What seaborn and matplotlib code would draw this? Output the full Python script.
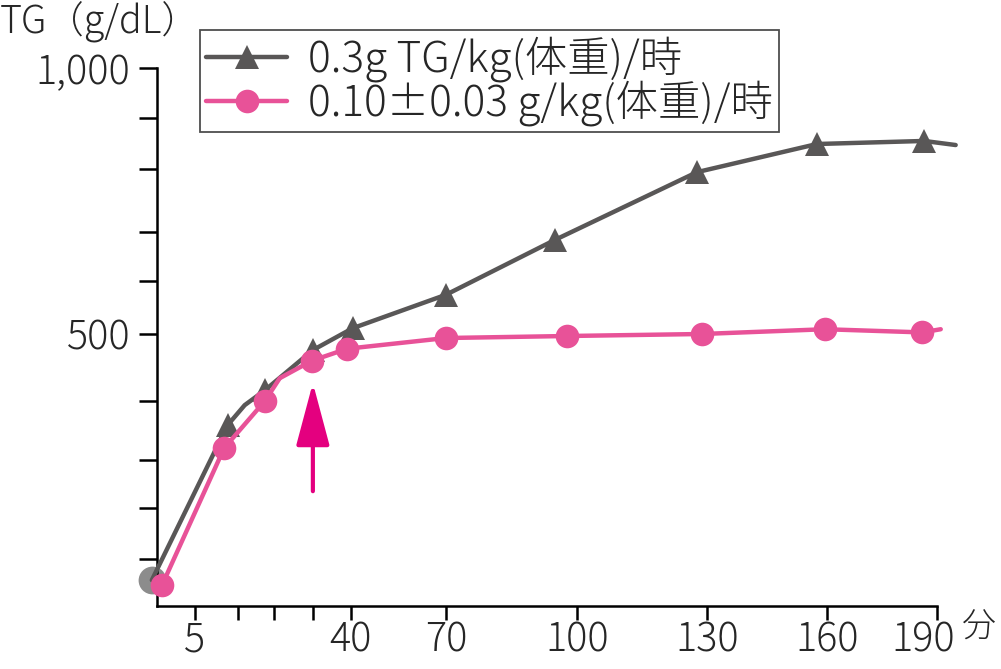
import numpy as np
import pandas as pd
import matplotlib.pyplot as plt
import matplotlib.transforms as mtransforms
import seaborn as sns

sns.set_theme(style='white')
plt.rcParams['font.family'] = ['Noto Sans CJK JP', 'DejaVu Sans']
plt.rcParams['font.weight'] = 'light'

# values (time in min, TG)
tg03_min = [0, 8.8, 11.9, 17.5, 30, 40.6, 70, 95, 127.7, 157.5, 186.5, 195]
tg03_val = [55, 359, 393, 416, 476, 511, 574, 684, 795, 849, 855, 847]
tg03_marks = [1, 3, 4, 5, 6, 7, 8, 9, 10]

tg01_min = [1.2, 8.4, 17.5, 21.5, 29.7, 39, 70, 97.7, 128.8, 159.5, 186, 191]
tg01_val = [45, 320, 400, 434, 460, 478, 494, 497, 500, 509, 503, 509]
tg01_marks = [0, 1, 2, 4, 5, 6, 7, 8, 9, 10]

labels = ["0.3g TG/kg(体重)/時", "0.10±0.03 g/kg(体重)/時"]

arrow_min = 30
arrow_from, arrow_to = 235, 427

xticks = [5, 10, 20, 30, 40, 70, 100, 130, 160, 190]
xticklabels = ["5", "", "", "", "40", "70", "100", "130", "160", "190"]
yticks = [100, 200, 300, 400, 500, 600, 700, 800, 900, 1000]
yticklabels = ["", "", "", "", "500", "", "", "", "", "1,000"]

# the drawn axes are not evenly spaced, so use piecewise scales
x_knots = [-10, 0, 5, 10, 20, 30, 40, 70, 100, 130, 160, 190, 220]
x_space = [-86, 0, 43, 86, 122, 161, 199, 294, 425, 555, 675, 785, 897]
y_knots = [-100, 0, 100, 200, 300, 400, 500, 600, 700, 800, 900, 1000, 1100]
y_space = [-47, 0, 47, 98, 146, 205, 272, 325, 374, 437, 488, 538, 588]

gray = '#595757'
pink = '#E85298'

df03 = pd.DataFrame({'min': tg03_min, 'TG': tg03_val})
df01 = pd.DataFrame({'min': tg01_min, 'TG': tg01_val})

fig = plt.figure(figsize=(10.01, 6.69), dpi=100)
ax = fig.add_axes([157/1001, 1 - 606/669, (937 - 157)/1001, (606 - 68)/669])

# start point of the 0.3g series is a grey dot
ax.scatter(tg03_min[:1], tg03_val[:1], s=20**2, color='#8C8C8C', zorder=2,
           clip_on=False, linewidths=0)
sns.lineplot(data=df03, x='min', y='TG', ax=ax, color=gray, lw=3.2, sort=False,
             marker='^', markersize=17, markevery=tg03_marks, markeredgewidth=0,
             label=labels[0], clip_on=False, zorder=3)
sns.lineplot(data=df01, x='min', y='TG', ax=ax, color=pink, lw=3.2, sort=False,
             marker='o', markersize=17, markevery=tg01_marks, markeredgewidth=0,
             label=labels[1], clip_on=False, zorder=4)

ax.set_xscale('function', functions=(lambda v: np.interp(v, x_knots, x_space),
                                     lambda p: np.interp(p, x_space, x_knots)))
ax.set_yscale('function', functions=(lambda v: np.interp(v, y_knots, y_space),
                                     lambda p: np.interp(p, y_space, y_knots)))
ax.set_xlim(0.6, 190)
ax.set_ylim(0, 1000)

ax.set_xticks(xticks)
ax.set_xticklabels(xticklabels)
ax.set_yticks(yticks)
ax.set_yticklabels(yticklabels)
ax.minorticks_off()
ax.set_xlabel('')
ax.set_ylabel('')

sns.despine(ax=ax)
for s in ['left', 'bottom']:
    ax.spines[s].set_linewidth(1.8)
    ax.spines[s].set_color('black')
ax.tick_params(axis='y', direction='out', length=13, width=1.8, color='black',
               labelsize=28.5, pad=6, left=True)
ax.tick_params(axis='x', direction='out', length=10, width=1.8, color='black',
               labelsize=28.5, pad=0, bottom=True)

# the last label sits a little left of its tick
last = ax.get_xticklabels()[-1]
last.set_transform(last.get_transform() +
                   mtransforms.ScaledTranslation(-10/72, 0, fig.dpi_scale_trans))

ax.annotate('', xy=(arrow_min, arrow_to), xytext=(arrow_min, arrow_from),
            arrowprops=dict(arrowstyle='-|>,head_length=1.95,head_width=0.52',
                            mutation_scale=20, color='#E4007F', lw=3,
                            shrinkA=0, shrinkB=0))

leg = ax.legend(loc='upper left', bbox_to_anchor=(200/1001, 1 - 30/669),
                bbox_transform=fig.transFigure, fontsize=30.5, frameon=True,
                fancybox=False, edgecolor='#222222', handlelength=1.9,
                handletextpad=0.5, labelspacing=-0.05, borderpad=0.15,
                borderaxespad=0)
leg.get_frame().set_linewidth(1.3)

fig.text(0.0, 1 - 2/669, 'TG（g/dL）', fontsize=27, ha='left', va='top')
fig.text(962/1001, 1 - 628/669, '分', fontsize=24.5, ha='left', va='center')

fig.savefig('out.png', dpi=100)
